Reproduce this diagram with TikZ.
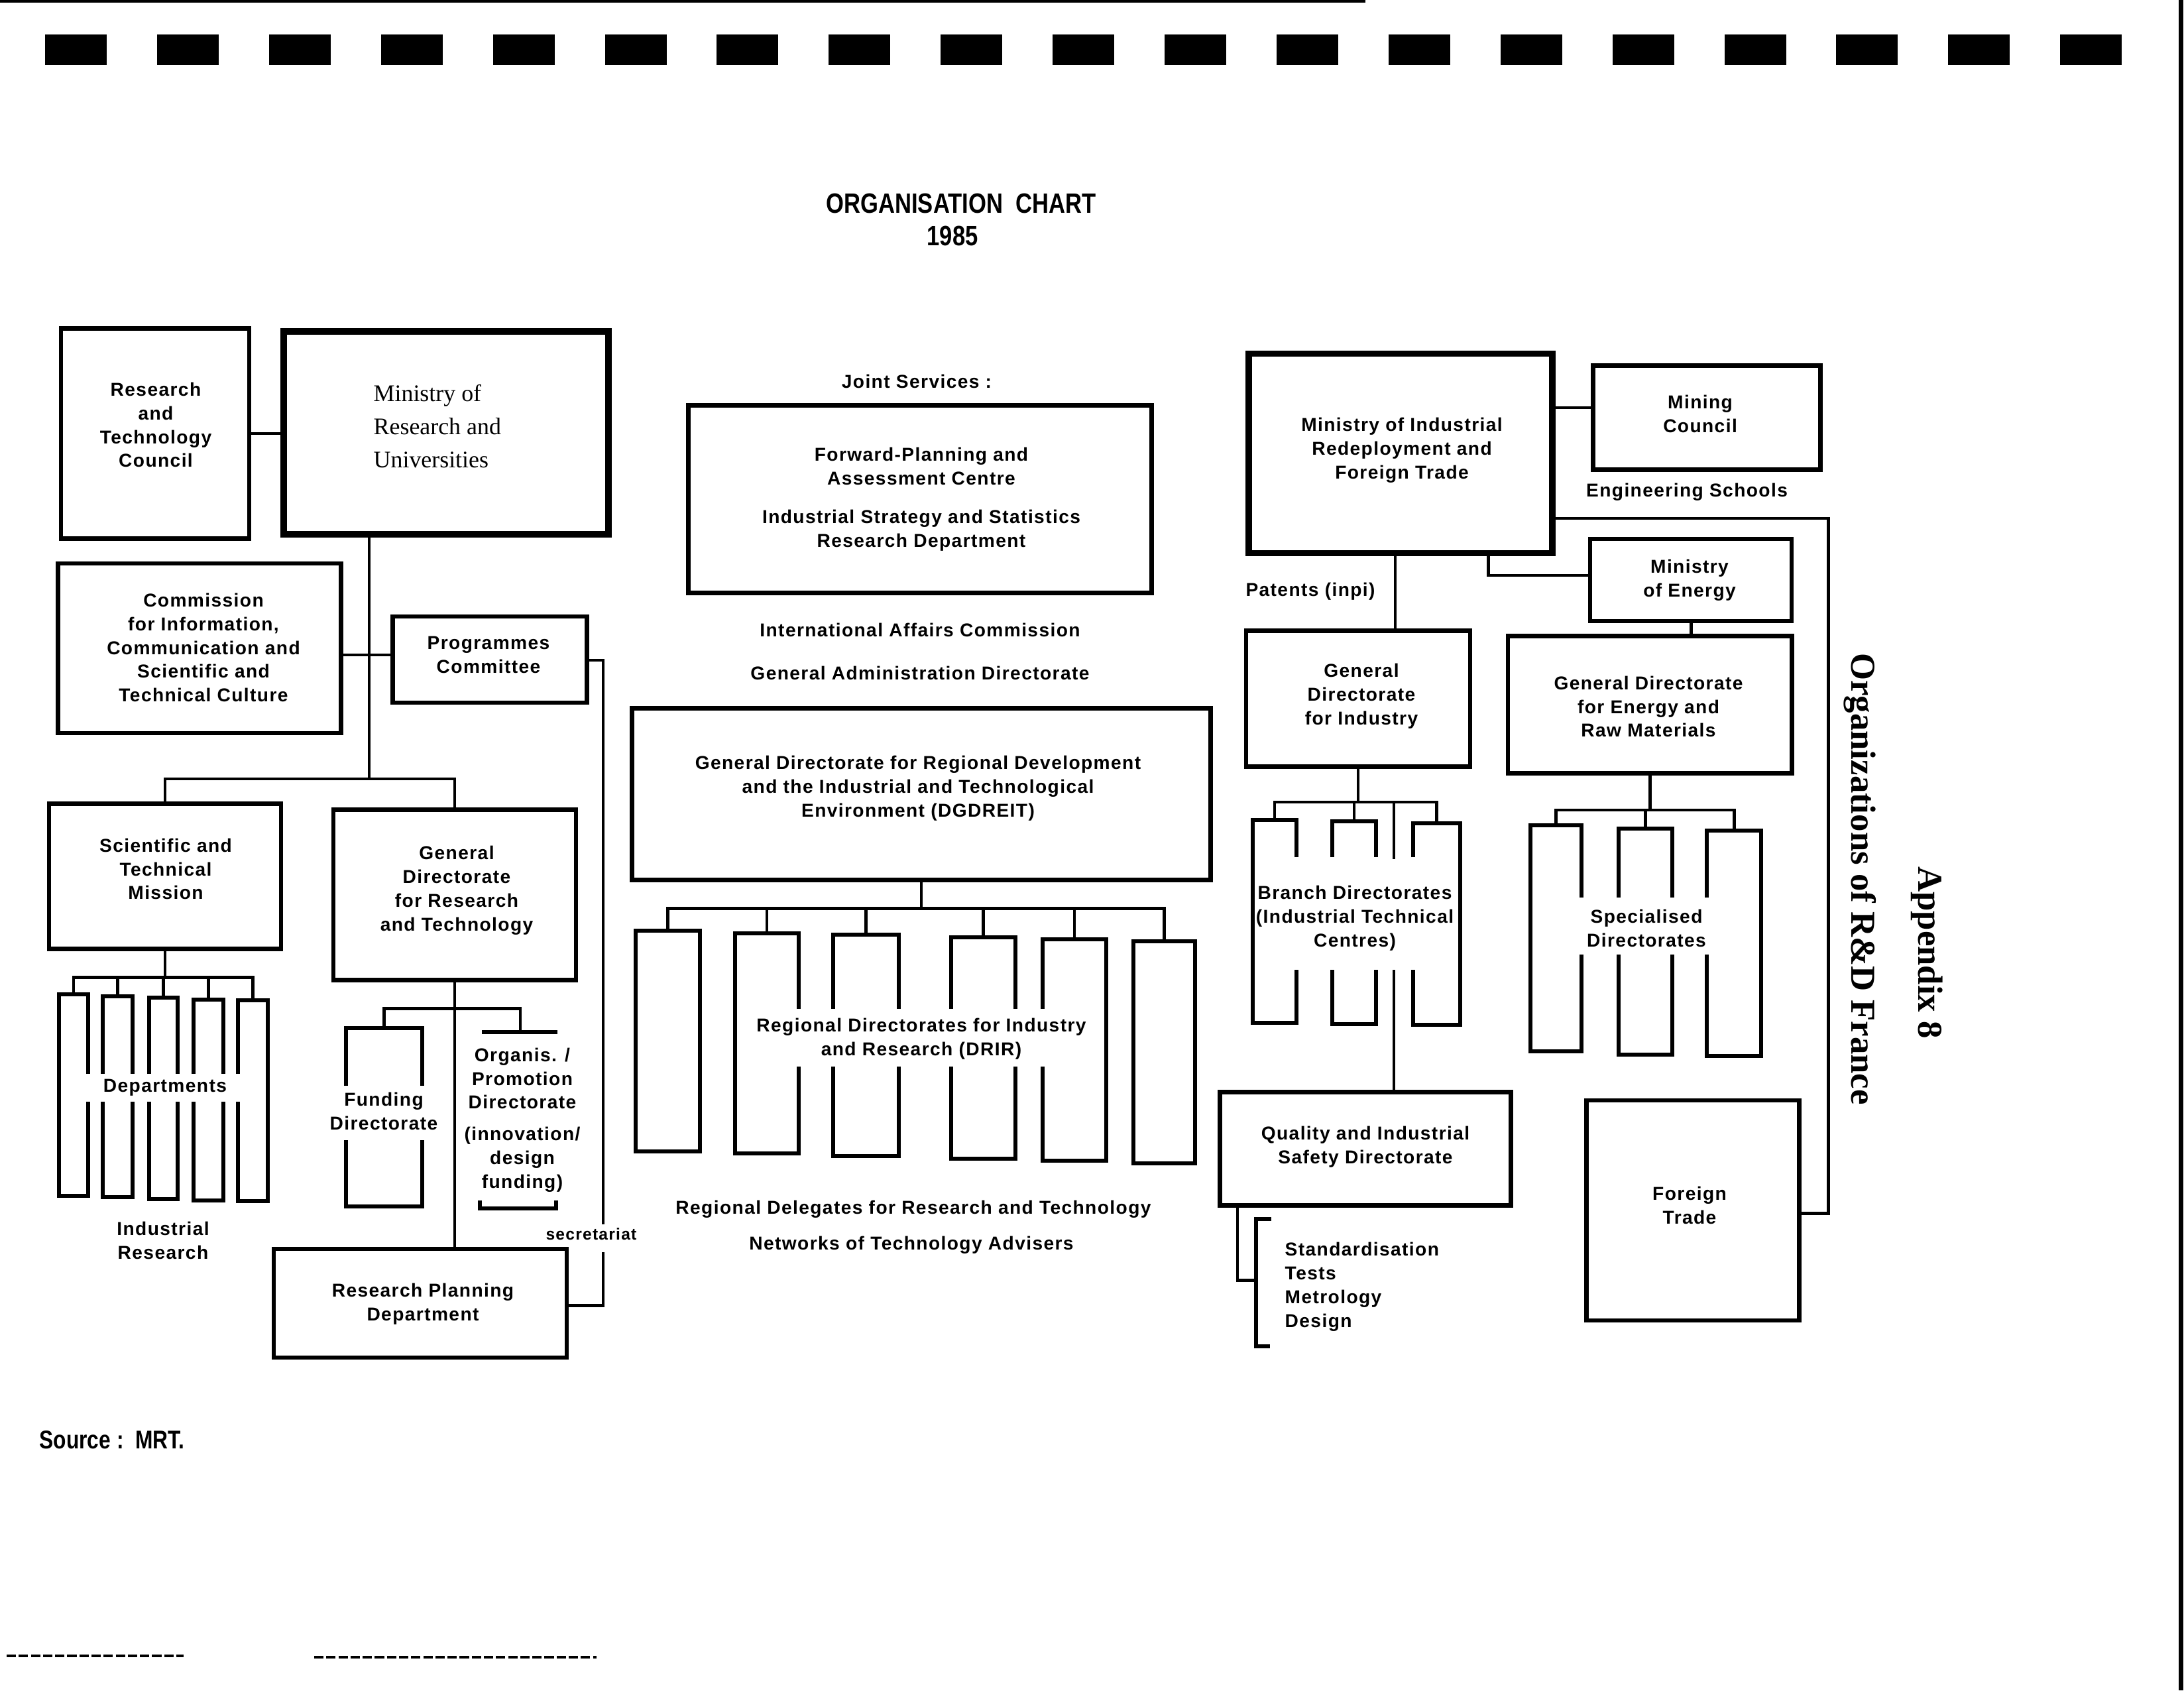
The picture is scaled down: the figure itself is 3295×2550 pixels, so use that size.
\documentclass[tikz,border=0pt]{standalone}
\usepackage{fontspec}
\usepackage{graphicx}
\newfontfamily\hvf[LetterSpace=5]{Liberation Sans}
\newfontfamily\hvplain{Liberation Sans}
\newfontfamily\tmf{Liberation Serif}
\usetikzlibrary{calc}
% open tall boxes: name, x1, ytop, x2, ybot, gaptop, gapbot
\newcommand{\OpenBoth}[7]{%
  \coordinate (#1) at ({(#2+#4)/2},#3);
  \draw[obl] (#2,#6) -- (#2,#3) -- (#4,#3) -- (#4,#6);
  \draw[obl] (#2,#7) -- (#2,#5) -- (#4,#5) -- (#4,#7);}
\newcommand{\OpenRight}[7]{%
  \coordinate (#1) at ({(#2+#4)/2},#3);
  \draw[obl] (#4,#6) -- (#4,#3) -- (#2,#3) -- (#2,#5) -- (#4,#5) -- (#4,#7);}
\newcommand{\OpenLeft}[7]{%
  \coordinate (#1) at ({(#2+#4)/2},#3);
  \draw[obl] (#2,#6) -- (#2,#3) -- (#4,#3) -- (#4,#5) -- (#2,#5) -- (#2,#7);}
\newcommand{\ClosedBox}[5]{%
  \coordinate (#1) at ({(#2+#4)/2},#3);
  \draw[obl] (#2,#3) rectangle (#4,#5);}
\begin{document}
\begin{tikzpicture}[x=0.01cm,y=-0.01cm,
  box/.style={draw, line width=1.9pt, inner sep=0pt},
  thickbox/.style={draw, line width=2.7pt, inner sep=0pt},
  obl/.style={line width=1.7pt},
  conn/.style={line width=1.4pt},
  txt/.style={font=\hvf\bfseries\fontsize{8}{10.2}\selectfont, align=center, inner sep=0pt},
  smalltxt/.style={font=\hvf\bfseries\fontsize{7}{9}\selectfont, inner sep=0pt},
  ]
\useasboundingbox (0,0) rectangle (3295,2550);
\fill[white] (0,0) rectangle (3295,2550);

% scan edges and punch strip
\draw[line width=1.2pt] (0,2) -- (2060,2);
\draw[line width=2pt] (3290,0) -- (3290,2550);
\foreach \i in {0,...,18} \fill ({68+168.9*\i},52) rectangle ++(93,46);
\draw[line width=0.9pt, dash pattern=on 4pt off 1.2pt] (10,2498) -- (277,2498);
\draw[line width=0.9pt, dash pattern=on 4pt off 1.2pt] (474,2500) -- (900,2500);

% title
\node[inner sep=0pt] (title) at (1450,307) {\scalebox{0.82}[1]{\hvplain\bfseries\fontsize{12}{14}\selectfont ORGANISATION\ \ CHART}};
\node[inner sep=0pt] (year) at (1437,356) {\scalebox{0.82}[1]{\hvplain\bfseries\fontsize{12}{14}\selectfont 1985}};

% ---------------- left part
\node[box, minimum width=2.84cm, minimum height=3.17cm] (rtc) at (234,654) {};
\node[txt] (rtc-t) at (235,641) {Research\\and\\Technology\\Council};
\node[thickbox, minimum width=4.90cm, minimum height=3.06cm] (mru) at (673,653) {};
\node[font=\tmf\fontsize{10.2}{14.2}\selectfont, align=left, anchor=west, inner sep=0pt] (mru-t) at (563,643) {Ministry of\\Research and\\Universities};
\draw[conn] (rtc.east) -- (rtc.east -| mru.west);

\node[box, minimum width=4.27cm, minimum height=2.56cm] (com) at (301,978) {};
\node[txt] (com-t) at (307,977) {Commission\\for Information,\\Communication and\\Scientific and\\Technical Culture};
\node[box, minimum width=2.93cm, minimum height=1.30cm] (prog) at (739,995) {};
\node[txt] (prog-t) at (737,988) {Programmes\\Committee};

\coordinate (mv) at (557,1175);
\coordinate (cp) at (557,988);
\draw[conn] (mru.south -| mv) -- (mv);
\draw[conn] (com.east |- cp) -- (prog.west |- cp);

\node[box, minimum width=3.50cm, minimum height=2.19cm] (stm) at (249,1322) {};
\node[txt] (stm-t) at (250,1311) {Scientific and\\Technical\\Mission};
\node[box, minimum width=3.66cm, minimum height=2.57cm] (gdrt) at (686,1350) {};
\node[txt] (gdrt-t) at (689,1343) {General\\Directorate\\for Research\\and Technology};
\draw[conn] (stm.north) |- (gdrt.north |- mv) -- (gdrt.north);

% departments
\OpenRight{dep1}{89}{1500}{133}{1804}{1620}{1662}
\OpenBoth{dep2}{155}{1503}{200}{1806}{1620}{1662}
\OpenBoth{dep3}{225}{1505}{268}{1809}{1620}{1662}
\OpenBoth{dep4}{292}{1508}{337}{1811}{1620}{1662}
\OpenLeft{dep5}{359}{1509}{404}{1812}{1620}{1662}
\coordinate (depbar) at (249,1474);
\draw[conn] (stm.south) -- (depbar);
\draw[conn] (dep1) |- (depbar) -| (dep5);
\foreach \n in {dep2,dep3,dep4} \draw[conn] (\n) -- (\n |- depbar);
\node[txt] (dep-t) at (249,1641) {Departments};
\node[txt] (ir-t) at (246,1871) {Industrial\\Research};

% funding / organis
\OpenBoth{fund}{522}{1551}{637}{1820}{1638}{1720}
\node[txt] (fund-t) at (579,1676) {Funding\\Directorate};
\coordinate (org) at (785,1557);
\draw[obl] (727,1557) -- (841,1557);
\draw[obl] (724,1811) -- (724,1823) -- (839,1823) -- (839,1811);
\node[txt] (org-t1) at (788,1627) {Organis. /\\Promotion\\Directorate};
\node[txt] (org-t2) at (788,1749) {(innovation/\\design\\funding)};

\node[box, minimum width=4.42cm, minimum height=1.64cm] (rpd) at (634,1966) {};
\node[txt] (rpd-t) at (638,1967) {Research Planning\\Department};
\coordinate (gb) at (686,1521);
\draw[conn] (gdrt.south) -- (gdrt.south |- rpd.north);
\draw[conn] (fund) |- (gb) -| (org);

% secretariat line
\coordinate (s1) at (910,996);
\coordinate (s2) at (910,1847);
\coordinate (s3) at (910,1889);
\coordinate (s4) at (910,1969);
\draw[conn] (prog.east |- s1) -- (s1) -- (s2);
\draw[conn] (s3) -- (s4) -- (rpd.east |- s4);
\node[smalltxt] (sec-t) at (892,1862) {secretariat};

% ---------------- middle part
\node[txt] (js-t) at (1383,575) {Joint Services :};
\node[box, minimum width=6.98cm, minimum height=2.83cm] (fpa) at (1388,753) {};
\node[txt] (fpa-t1) at (1390,703) {Forward-Planning and\\Assessment Centre};
\node[txt] (fpa-t2) at (1390,800) {Industrial Strategy and Statistics\\Research Department};
\node[txt] (iac-t) at (1388,950) {International Affairs Commission};
\node[txt] (gad-t) at (1388,1015) {General Administration Directorate};

\node[box, minimum width=8.72cm, minimum height=2.59cm] (dg) at (1390,1198) {};
\node[txt] (dg-t) at (1385,1189) {General Directorate for Regional Development\\and the Industrial and Technological\\Environment  (DGDREIT)};

\ClosedBox{dr1}{959}{1404}{1056}{1737}
\OpenRight{dr2}{1109}{1408}{1205}{1740}{1522}{1609}
\OpenBoth{dr3}{1257}{1410}{1356}{1744}{1522}{1609}
\OpenBoth{dr4}{1435}{1414}{1532}{1748}{1522}{1609}
\OpenLeft{dr5}{1573}{1417}{1669}{1751}{1522}{1609}
\ClosedBox{dr6}{1710}{1420}{1803}{1755}
\coordinate (drbar) at (1390,1370);
\draw[conn] (dg.south) -- (drbar);
\draw[conn] (dr1) |- (drbar) -| (dr6);
\foreach \n in {dr2,dr3,dr4,dr5} \draw[conn] (\n) -- (\n |- drbar);
\node[txt] (dr-t) at (1390,1567) {Regional Directorates for Industry\\and Research  (DRIR)};

\node[txt] (rd-t) at (1378,1824) {Regional Delegates for Research and Technology};
\node[txt] (nt-t) at (1375,1878) {Networks of Technology Advisers};

% ---------------- right part
\node[thickbox, minimum width=4.58cm, minimum height=3.01cm] (mird) at (2113,684) {};
\node[txt] (mird-t) at (2115,679) {Ministry of Industrial\\Redeployment and\\Foreign Trade};
\node[box, minimum width=3.43cm, minimum height=1.57cm] (mc) at (2575,630) {};
\node[txt] (mc-t) at (2565,624) {Mining\\Council};
\coordinate (mcl) at (2370,615);
\draw[conn] (mird.east |- mcl) -- (mc.west |- mcl);
\node[txt] (es-t) at (2545,742) {Engineering Schools};

\node[box, minimum width=3.04cm, minimum height=1.24cm] (me) at (2551,875) {};
\node[txt] (me-t) at (2549,875) {Ministry\\of Energy};
\coordinate (mec) at (2245,868);
\draw[conn] (mird.south -| mec) -- (mec) -- (me.west |- mec);

\node[txt] (pat-t) at (1977,892) {Patents (inpi)};

\node[box, minimum width=3.38cm, minimum height=2.05cm] (gdi) at (2049,1054) {};
\node[txt] (gdi-t) at (2054,1050) {General\\Directorate\\for Industry};
\coordinate (gv) at (2105,900);
\draw[conn] (mird.south -| gv) -- (gdi.north -| gv);

\node[box, minimum width=4.28cm, minimum height=2.07cm] (gderm) at (2489,1063) {};
\node[txt] (gderm-t) at (2487,1066) {General Directorate\\for Energy and\\Raw Materials};
\draw[conn] (me.south) -- (me.south |- gderm.north);

% branch directorates
\OpenRight{br1}{1890}{1237}{1956}{1543}{1293}{1463}
\OpenBoth{br2}{2010}{1239}{2076}{1545}{1293}{1463}
\OpenLeft{br3}{2132}{1242}{2203}{1546}{1293}{1463}
\coordinate (brbar) at (2049,1210);
\draw[conn] (gdi.south) -- (brbar);
\draw[conn] (br1) |- (brbar) -| (br3);
\draw[conn] (br2) -- (br2 |- brbar);
\node[txt] (br-t) at (2044,1385) {Branch Directorates\\(Industrial Technical\\Centres)};

\node[box, minimum width=4.39cm, minimum height=1.71cm] (qa) at (2060,1733) {};
\node[txt] (qa-t) at (2060,1730) {Quality and Industrial\\Safety Directorate};
\coordinate (qv0) at (2103,1210);
\coordinate (qv1) at (2103,1296);
\coordinate (qv2) at (2103,1463);
\draw[conn] (qv0) -- (qv1);
\draw[conn] (qv2) -- (qa.north -| qv2);

\coordinate (qs) at (1867,1931);
\coordinate (qs2) at (1893,1931);
\draw[conn] (qa.south -| qs) -- (qs) -- (qs2);
\draw[obl] (1918,1839) -- (1895,1839) -- (1895,2031) -- (1916,2031);
\node[txt, align=left, anchor=west] (std-t) at (1938,1941) {Standardisation\\Tests\\Metrology\\Design};

% specialised directorates
\OpenRight{sp1}{2309}{1245}{2386}{1586}{1354}{1440}
\OpenBoth{sp2}{2442}{1250}{2523}{1591}{1354}{1440}
\OpenLeft{sp3}{2575}{1253}{2657}{1593}{1354}{1440}
\coordinate (spbar) at (2489,1222);
\draw[conn] (gderm.south) -- (spbar);
\draw[conn] (sp1) |- (spbar) -| (sp3);
\draw[conn] (sp2) -- (sp2 |- spbar);
\node[txt] (sp-t) at (2484,1400) {Specialised\\Directorates};

\node[box, minimum width=3.21cm, minimum height=3.32cm] (ft) at (2554,1826) {};
\node[txt] (ft-t) at (2549,1818) {Foreign\\Trade};
\coordinate (rl1) at (2758,782);
\coordinate (rl2) at (2758,1830);
\draw[conn] (mird.east |- rl1) -- (rl1) -- (rl2) -- (ft.east |- rl2);

% side headings
\node[rotate=-90, inner sep=0pt, font=\tmf\bfseries\fontsize{15}{18}\selectfont] (side1) at (2806,1326) {Organizations of R\&D France};
\node[rotate=-90, inner sep=0pt, font=\tmf\bfseries\fontsize{15}{18}\selectfont] (side2) at (2907,1437) {Appendix 8};

% source
\node[inner sep=0pt, anchor=west] (src) at (59,2172) {\scalebox{0.82}[1]{\hvplain\bfseries\fontsize{11}{13}\selectfont Source :\ \ MRT.}};
\end{tikzpicture}
\end{document}
